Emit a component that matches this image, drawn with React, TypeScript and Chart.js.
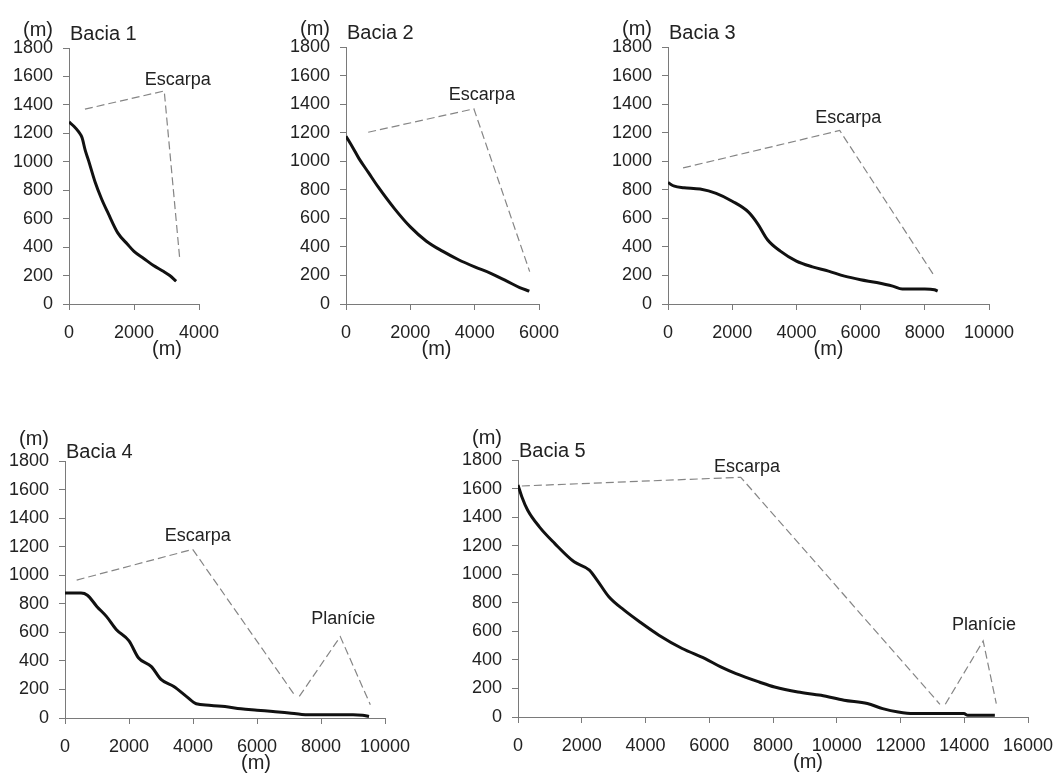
import React, { useEffect, useRef } from 'react';
import { Chart, registerables } from 'chart.js';

Chart.register(...registerables);

// ---------- data (metres) ----------
const bacia1X = [0, 150, 300, 400, 500, 600, 800, 1000, 1200, 1500, 1800, 2000, 2300, 2600, 2900, 3100, 3300];
const bacia1Y = [1280, 1250, 1210, 1170, 1080, 1010, 860, 740, 640, 500, 420, 370, 320, 270, 230, 200, 160];
const escarpa1X = [490, 2930, 3410];
const escarpa1Y = [1370, 1498, 310];

const bacia2X = [0, 200, 400, 700, 1000, 1500, 2000, 2500, 3000, 3500, 4000, 4500, 5000, 5400, 5700];
const bacia2Y = [1175, 1100, 1020, 920, 820, 670, 540, 440, 370, 310, 260, 215, 160, 115, 90];
const escarpa2X = [690, 3975, 5710];
const escarpa2Y = [1203, 1367, 227];

const bacia3X = [0, 200, 500, 1000, 1500, 2000, 2500, 2800, 3100, 3500, 4000, 4500, 5000, 5500, 6000, 6500, 7000, 7300, 8000, 8300, 8400];
const bacia3Y = [850, 825, 815, 805, 775, 720, 645, 560, 450, 370, 300, 260, 230, 195, 170, 150, 125, 105, 105, 100, 90];
const escarpa3X = [470, 5350, 8255];
const escarpa3Y = [953, 1215, 211];

const bacia4X = [0, 500, 700, 1000, 1300, 1600, 2000, 2300, 2700, 3000, 3400, 3800, 4100, 4500, 5000, 5500, 6000, 6500, 7000, 7400, 8000, 9000, 9300, 9500];
const bacia4Y = [875, 875, 860, 780, 710, 620, 540, 420, 360, 270, 220, 150, 100, 90, 80, 65, 55, 45, 35, 25, 22, 22, 20, 10];
const escarpa4X = [365, 3990, 7146];
const escarpa4Y = [966, 1181, 170];
const planicie4X = [7322, 8603, 9541];
const planicie4Y = [151, 570, 93];

const bacia5X = [0, 120, 300, 670, 1150, 1760, 2240, 2480, 2850, 3330, 3820, 4420, 5150, 5870, 6360, 6840, 7570, 8050, 8780, 9510, 10230, 10960, 11440, 11930, 12410, 13990, 14110, 14960];
const bacia5Y = [1625, 1543, 1450, 1332, 1216, 1087, 1029, 959, 842, 748, 666, 573, 480, 409, 351, 304, 245, 210, 175, 152, 117, 94, 59, 35, 24, 24, 12, 12];
const escarpa5X = [121, 6988, 13237];
const escarpa5Y = [1618, 1679, 89];
const planicie5X = [13406, 14593, 15005];
const planicie5Y = [89, 533, 94];

const titles = ['Bacia 1', 'Bacia 2', 'Bacia 3', 'Bacia 4', 'Bacia 5'];
const xMaxes = [4000, 6000, 10000, 10000, 16000];
const yTicksMax = 1800;
const yStep = 200;
const xStep = 2000;
const unitLabel = '(m)';

// annotation texts in data coordinates
const labelTexts = [['Escarpa'], ['Escarpa'], ['Escarpa'], ['Escarpa', 'Planície'], ['Escarpa', 'Planície']];
const labelXs = [[3345], [4224], [5617], [4147, 8697], [7182, 14617]];
const labelYs = [[1578], [1461], [1304], [1276, 696], [1749, 643]];

const profilesX = [bacia1X, bacia2X, bacia3X, bacia4X, bacia5X];
const profilesY = [bacia1Y, bacia2Y, bacia3Y, bacia4Y, bacia5Y];
const dashedX = [[escarpa1X], [escarpa2X], [escarpa3X], [escarpa4X, planicie4X], [escarpa5X, planicie5X]];
const dashedY = [[escarpa1Y], [escarpa2Y], [escarpa3Y], [escarpa4Y, planicie4Y], [escarpa5Y, planicie5Y]];

// ---------- layout (page pixels of each plot area) ----------
const layouts = [
  { L: 69, T: 48, R: 199, B: 304, titleDy: -8, yTitleDy: -12, xTitleDx: 33 },
  { L: 346, T: 47, R: 539, B: 304, titleDy: -8, yTitleDy: -12, xTitleDx: -6 },
  { L: 668, T: 47, R: 989, B: 304, titleDy: -8, yTitleDy: -12, xTitleDx: 0 },
  { L: 65, T: 461, R: 385, B: 718, titleDy: -3, yTitleDy: -16, xTitleDx: 31 },
  { L: 518, T: 460, R: 1028, B: 717, titleDy: -3, yTitleDy: -16, xTitleDx: 35 },
];

const FONT = '"Liberation Sans", Arial, sans-serif';
const AXIS = '#7a7a7a';
const TEXT = '#222222';
const Y_AXIS_W = 60;
const X_AXIS_H = 60;
const PAD_T = 40;
const PAD_R = 50;

const toPts = (xs: number[], ys: number[]) => xs.map((x, i) => ({ x, y: ys[i] }));

function Panel({ idx }: { idx: number }) {
  const ref = useRef<HTMLCanvasElement | null>(null);
  const lay = layouts[idx];
  const w = lay.R - lay.L + Y_AXIS_W + PAD_R;
  const h = lay.B - lay.T + PAD_T + X_AXIS_H;

  useEffect(() => {
    if (!ref.current) return;
    const datasets: any[] = [
      {
        data: toPts(profilesX[idx], profilesY[idx]),
        showLine: true,
        borderColor: '#111111',
        borderWidth: 3,
        pointRadius: 0,
        cubicInterpolationMode: 'monotone',
      },
    ];
    dashedX[idx].forEach((xs, j) => {
      datasets.push({
        data: toPts(xs, dashedY[idx][j]),
        showLine: true,
        borderColor: '#858585',
        borderWidth: 1.2,
        borderDash: [8, 4],
        pointRadius: 0,
        tension: 0,
      });
    });

    const textPlugin = {
      id: 'panelTexts',
      afterDraw(chart: any) {
        const { ctx, chartArea: a, scales } = chart;
        ctx.save();
        ctx.fillStyle = TEXT;
        ctx.font = `20px ${FONT}`;
        ctx.textBaseline = 'alphabetic';
        ctx.textAlign = 'right';
        ctx.fillText(unitLabel, a.left - 16, a.top + lay.yTitleDy);
        ctx.textAlign = 'left';
        ctx.fillText(titles[idx], a.left + 1, a.top + lay.titleDy);
        ctx.textAlign = 'center';
        ctx.textBaseline = 'middle';
        ctx.fillText(unitLabel, (a.left + a.right) / 2 + lay.xTitleDx, a.bottom + 45);
        ctx.font = `18px ${FONT}`;
        labelTexts[idx].forEach((t, k) => {
          ctx.fillText(t, scales.x.getPixelForValue(labelXs[idx][k]), scales.y.getPixelForValue(labelYs[idx][k]));
        });
        ctx.restore();
      },
    };

    const chart = new Chart(ref.current, {
      type: 'scatter',
      data: { datasets },
      options: {
        animation: false,
        responsive: false,
        layout: { padding: { left: 0, top: PAD_T, right: PAD_R, bottom: 0 } },
        plugins: { legend: { display: false }, tooltip: { enabled: false } },
        scales: {
          x: {
            type: 'linear',
            min: 0,
            max: xMaxes[idx],
            afterFit: (s: any) => { s.height = X_AXIS_H; },
            ticks: {
              stepSize: xStep,
              padding: 12,
              color: TEXT,
              font: { family: FONT, size: 18 },
              callback: (v: any) => String(v),
              maxRotation: 0,
              autoSkip: false,
            },
            grid: { drawOnChartArea: false, drawTicks: true, tickLength: 6, color: AXIS },
            border: { color: AXIS, width: 1 },
          },
          y: {
            type: 'linear',
            min: 0,
            max: yTicksMax,
            afterFit: (s: any) => { s.width = Y_AXIS_W; },
            ticks: {
              stepSize: yStep,
              padding: 10,
              color: TEXT,
              font: { family: FONT, size: 18 },
              callback: (v: any) => String(v),
              autoSkip: false,
            },
            grid: { drawOnChartArea: false, drawTicks: true, tickLength: 6, color: AXIS },
            border: { color: AXIS, width: 1 },
          },
        },
      },
      plugins: [textPlugin],
    } as any);
    return () => chart.destroy();
  }, [idx]);

  return (
    <canvas
      ref={ref}
      width={w}
      height={h}
      style={{ position: 'absolute', left: lay.L - Y_AXIS_W, top: lay.T - PAD_T, width: w, height: h }}
    />
  );
}

export default function App() {
  return (
    <div
      style={{
        position: 'absolute',
        left: 0,
        top: 0,
        width: 1056,
        height: 776,
        overflow: 'hidden',
        background: '#ffffff',
      }}
    >
      {titles.map((_, i) => (
        <Panel key={i} idx={i} />
      ))}
    </div>
  );
}
